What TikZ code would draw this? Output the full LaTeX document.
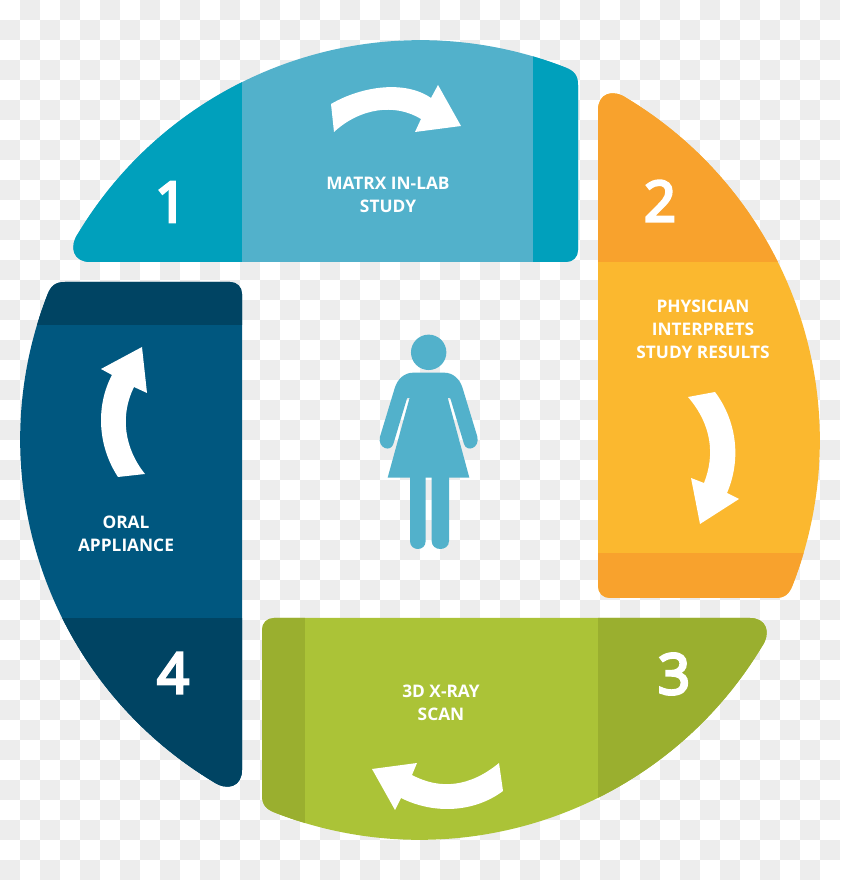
\documentclass[tikz,border=0pt]{standalone}
\usepackage{fontspec}
\setmainfont{Open Sans}[BoldFont={Open Sans Bold}]
\newfontfamily\numfont{Open Sans}[FakeBold=5]
\definecolor{tealL}{HTML}{52B1CB}\definecolor{tealD}{HTML}{00A0BC}
\definecolor{orgL}{HTML}{FBB82F}\definecolor{orgD}{HTML}{F8A22D}
\definecolor{grnL}{HTML}{ABC337}\definecolor{grnD}{HTML}{9AAF2F}
\definecolor{navL}{HTML}{00577F}\definecolor{navD}{HTML}{004463}
\definecolor{chk}{HTML}{EDEDED}
\newcommand{\segpath}{(-330,178) -- (146,178) .. controls (153,178) and (158,183) .. (158,190)
  -- (158,355) .. controls (158,365) and (154,369) .. (145.5,372.5)
  arc[start angle=68.7,end angle=148.8,radius=399.7]
  .. controls (-352,192) and (-346,178) .. (-330,178) -- cycle}
\newcommand{\segment}[4]{\begin{scope}[shift={(420,440)},rotate=#1]
  \fill[#2] \segpath;
  \begin{scope}\clip \segpath;
    \fill[#3] (-420,150) rectangle (-178,420);
    \fill[#3] (#4,150) rectangle (170,420);
  \end{scope}\end{scope}}
\tikzset{
  lab/.style={text=white,align=center,inner sep=0pt,font=\bfseries\fontsize{17.3}{23}\selectfont},
  num/.style={text=white,inner sep=0pt,font=\numfont\fontsize{56}{60}\selectfont},
  pix/.style={yshift=880pt,y=-1pt},
  arrowfill/.style={fill=white}
}
\begin{document}
\begin{tikzpicture}[x=1pt,y=1pt]
\useasboundingbox (0,0) rectangle (840,880);
\fill[white] (0,0) rectangle (840,880);
\foreach \i in {0,...,41}\foreach \j in {0,...,43}{
  \pgfmathparse{int(mod(\i+\j,2))}
  \ifnum\pgfmathresult=1 \fill[chk] (\i*20,860-\j*20) rectangle (\i*20+20,880-\j*20);\fi}
\segment{0}{tealL}{tealD}{113}
\segment{-90}{orgL}{orgD}{113}
\segment{-180}{grnL}{grnD}{115}
\segment{-270}{navL}{navD}{115}
\begin{scope}[pix]
 \fill[arrowfill] (331,104) .. controls (362,86) and (405,80) .. (431,98) -- (438,85) -- (461,126) -- (415,132) -- (421,119)
    .. controls (395,103) and (360,108) .. (334,132) -- cycle;
 \fill[arrowfill] (715,392) .. controls (736,420) and (742,458) .. (727,493) -- (739,499) -- (700,524) -- (691,478) -- (704,483)
    .. controls (715,455) and (712,425) .. (688,397) -- cycle;
 \fill[arrowfill] (499,763) .. controls (470,787) and (440,790) .. (412,775) -- (417,763) -- (372,769) -- (395,810) -- (401,798)
    .. controls (435,815) and (475,812) .. (503,791) -- cycle;
 \fill[arrowfill] (145,474) .. controls (124,448) and (120,415) .. (134,387) -- (147,393) -- (142,347) -- (101,369) -- (112,375)
    .. controls (96,405) and (97,445) .. (118,477) -- cycle;
 \node[num] (n1) at (171,202) {1};
 \node[num] (n2) at (660,201) {2};
 \node[num] (n3) at (674,674) {3};
 \node[num] (n4) at (173,673) {4};
 \node[lab] (t1) at (388,195) {MATRX IN-LAB\\STUDY};
 \node[lab] (t2) at (703,329) {PHYSICIAN\\INTERPRETS\\STUDY RESULTS};
 \node[lab] (t3) at (441,703) {3D X-RAY\\SCAN};
 \node[lab] (t4) at (126,534) {ORAL\\APPLIANCE};
\end{scope}
\begin{scope}[shift={(350,560)},x=0.33333pt,y=-0.33333pt]
 \fill[tealL] (236,97) circle[radius=17.7pt];
 \fill[tealL] (190,158) -- (282,158) .. controls (310,158) and (330,178) .. (338,205) -- (382,350)
   .. controls (390,385) and (350,398) .. (342,372) -- (301,235) -- (293,233)
   -- (358,473) -- (113,473) -- (179,233) -- (171,235) -- (130,372)
   .. controls (122,398) and (82,385) .. (90,350) -- (134,205)
   .. controls (142,178) and (162,158) .. (190,158) -- cycle;
 \fill[tealL] (180,465) -- (180,663) .. controls (180,695) and (227,695) .. (227,663) -- (227,465) -- cycle;
 \fill[tealL] (245,465) -- (245,663) .. controls (245,695) and (297,695) .. (297,663) -- (297,465) -- cycle;
\end{scope}
\end{tikzpicture}
\end{document}
